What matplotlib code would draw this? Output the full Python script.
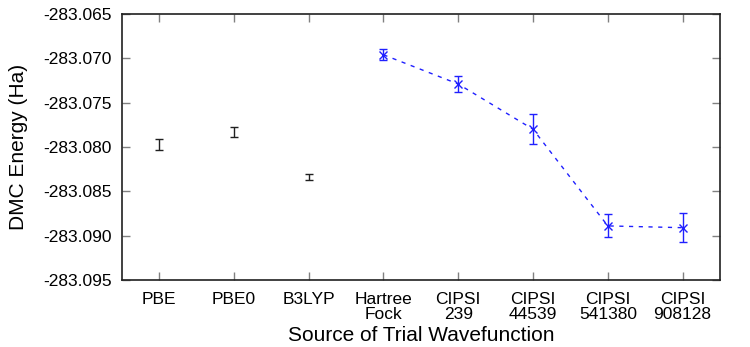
import numpy as np
import matplotlib
matplotlib.use("Agg")
import matplotlib.pyplot as plt

plt.rcParams['font.family'] = ['Liberation Sans', 'DejaVu Sans']

# trial wavefunction sources
labels = ["PBE", "PBE0", "B3LYP", "Hartree\nFock", "CIPSI\n239",
          "CIPSI\n44539", "CIPSI\n541380", "CIPSI\n908128"]

# DFT trial wavefunctions (black, no connecting line)
dft_pos = [1, 2, 3]
dft_energy = [-283.0797, -283.0783, -283.0834]
dft_err = [0.0006, 0.0006, 0.0003]

# HF + CIPSI series (blue, dashed)
ci_pos = [4, 5, 6, 7, 8]
ci_energy = [-283.0696, -283.0729, -283.0780, -283.0889, -283.0891]
ci_err = [0.0006, 0.00085, 0.0017, 0.0013, 0.0016]

fig = plt.figure(figsize=(7.5, 3.47), dpi=100)
ax = fig.add_axes([0.1623, 0.1931, 0.7977, 0.7666])

ax.errorbar(dft_pos, dft_energy, yerr=dft_err, fmt='none', ecolor='#202020',
            elinewidth=1.0, capsize=3, capthick=1.0)
ax.errorbar(ci_pos, ci_energy, yerr=ci_err, fmt='x', color='#2020ff',
            markersize=6, markeredgewidth=1.0, elinewidth=1.0, capsize=3,
            capthick=1.0, zorder=3)
ax.plot(ci_pos, ci_energy, linestyle=(0, (3, 4)), color='#2020ff', linewidth=1.0)

yticks = np.arange(-283.095, -283.0649, 0.005)
ax.set_xlim(0.5, 8.5)
ax.set_ylim(-283.095, -283.065)
ax.set_xticks(range(1, 9))
ax.set_xticklabels(labels, fontsize=12.5, linespacing=0.95)
ax.set_yticks(yticks)
ax.set_yticklabels([f"{v:.3f}" for v in yticks], fontsize=12.5)
ax.tick_params(direction='in', length=6, width=1, color='#808080',
               top=True, right=True, pad=7)
ax.tick_params(axis='x', pad=9)
for s in ax.spines.values():
    s.set_linewidth(1.2)
    s.set_color('#202020')

ax.set_xlabel("Source of Trial Wavefunction", fontsize=15, labelpad=3)
ax.set_ylabel("DMC Energy (Ha)", fontsize=15, labelpad=11)

fig.savefig("out.png", dpi=100)
